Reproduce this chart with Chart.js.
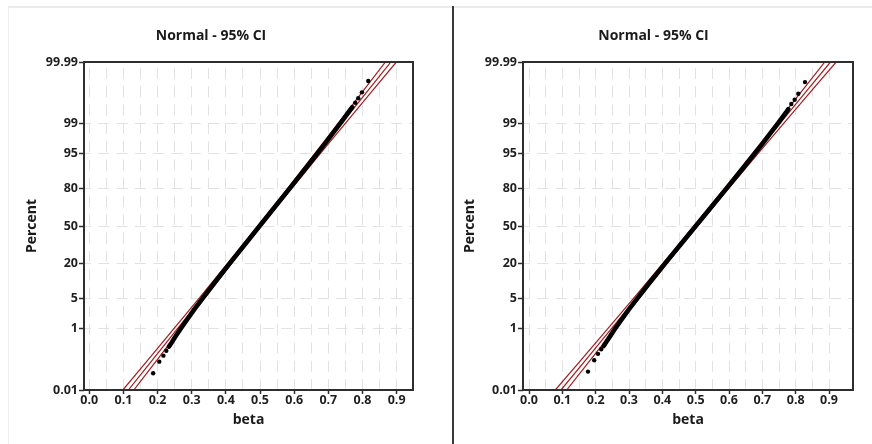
<!DOCTYPE html>
<html>
<head>
<meta charset="utf-8">
<script src="https://cdn.jsdelivr.net/npm/chart.js@4.4.1/dist/chart.umd.min.js"></script>
<style>
    html, body { margin: 0; padding: 0; background: #fff; }
    body { width: 872px; height: 444px; position: relative; overflow: hidden; }
    #marco { position: absolute; left: 8px; top: 6px; width: 864px; height: 438px; border-top: 2px solid #ebebeb; border-left: 1px solid #f0f0f0; }
    #separador { position: absolute; left: 452px; top: 6px; width: 2px; height: 438px; background: #3a3a3a; }
    canvas { position: absolute; top: 8px; }
    #graficaIzq { left: 9px; }
    #graficaDer { left: 454px; }
</style>
</head>
<body>
<div id="marco"></div>
<div id="separador"></div>
<canvas id="graficaIzq" width="436" height="436"></canvas>
<canvas id="graficaDer" width="418" height="436"></canvas>

<script>
// --- Datos ---
// Eje Y (escala de probabilidad normal)
const marcasY = [0.01, 1, 5, 20, 50, 80, 95, 99, 99.99];
const etiquetasY = ['0.01', '1', '5', '20', '50', '80', '95', '99', '99.99'];
// Eje X: rejilla cada 0.05, etiqueta cada 0.1
const marcasX = [0, 0.05, 0.1, 0.15, 0.2, 0.25, 0.3, 0.35, 0.4, 0.45, 0.5, 0.55, 0.6, 0.65, 0.7, 0.75, 0.8, 0.85, 0.9];
const etiquetasX = ['0.0', '', '0.1', '', '0.2', '', '0.3', '', '0.4', '', '0.5', '', '0.6', '', '0.7', '', '0.8', '', '0.9'];

// Niveles (%) donde se leen la recta ajustada y el IC 95%
const nivelesPct = [0.01, 0.1, 1, 5, 20, 50, 80, 95, 99, 99.9, 99.99];

// Panel izquierdo
const ajusteIzq = [0.1143, 0.1793, 0.2583, 0.3287, 0.4117, 0.4988, 0.5859, 0.6689, 0.7393, 0.8183, 0.8833];
const infIzq    = [0.0983, 0.1658, 0.2478, 0.3207, 0.4057, 0.4938, 0.5799, 0.6609, 0.7288, 0.8048, 0.8673];
const supIzq    = [0.1303, 0.1928, 0.2688, 0.3367, 0.4177, 0.5038, 0.5919, 0.6769, 0.7498, 0.8318, 0.8993];
const colaPctIzq  = [0.042, 0.105, 0.164, 0.234, 99.741, 99.811, 99.878, 99.9496];
const colaBetaIzq = [0.187, 0.205, 0.217, 0.2255, 0.779, 0.7877, 0.7985, 0.817];
const cuerpoPctIzq  = [0.31, 0.4, 0.5, 0.7, 1, 1.5, 2, 3, 5, 10, 20, 35, 50, 65, 80, 90, 95, 97, 98, 99, 99.3, 99.5, 99.65];
const cuerpoBetaIzq = [0.233, 0.2404, 0.2467, 0.2567, 0.2681, 0.2819, 0.2924, 0.3085, 0.3312, 0.3673, 0.4118, 0.459, 0.4988, 0.5386, 0.5858, 0.6308, 0.6677, 0.6913, 0.7084, 0.735, 0.7476, 0.7587, 0.7702];

// Panel derecho
const ajusteDer = [0.0959, 0.1643, 0.2474, 0.3214, 0.4087, 0.5002, 0.5917, 0.6790, 0.7530, 0.8361, 0.9045];
const infDer    = [0.0789, 0.1501, 0.2364, 0.3129, 0.4024, 0.4949, 0.5854, 0.6705, 0.7420, 0.8219, 0.8875];
const supDer    = [0.1129, 0.1785, 0.2584, 0.3299, 0.4150, 0.5055, 0.5980, 0.6875, 0.7640, 0.8503, 0.9215];
const colaPctDer  = [0.048, 0.117, 0.187, 0.259, 99.716, 99.791, 99.865, 99.945];
const colaBetaDer = [0.177, 0.1956, 0.207, 0.2166, 0.787, 0.797, 0.808, 0.828];
const cuerpoPctDer  = [0.326, 0.45, 0.7, 1, 1.5, 2, 3, 5, 10, 20, 35, 50, 65, 80, 90, 95, 97, 98, 99, 99.3, 99.5, 99.6];
const cuerpoBetaDer = [0.224, 0.2333, 0.2469, 0.2586, 0.273, 0.2839, 0.3007, 0.3244, 0.3621, 0.409, 0.4584, 0.5002, 0.542, 0.5914, 0.6387, 0.6772, 0.7017, 0.7193, 0.7468, 0.7595, 0.7712, 0.778];

const ROJO = '#a01c20';
const FUENTE = '"Open Sans", "Noto Sans", sans-serif';

// Inversa de la normal (Acklam) para pasar % a la escala de probabilidad
function probit(p) {
    const a = [-39.69683028665376, 220.9460984245205, -275.9285104469687, 138.3577518672690, -30.66479806614716, 2.506628277459239];
    const b = [-54.47609879822406, 161.5858368580409, -155.6989798598866, 66.80131188771972, -13.28068155288572];
    const c = [-0.007784894002430293, -0.3223964580411365, -2.400758277161838, -2.549671750640773, 4.374664141464968, 2.938163982698783];
    const d = [0.007784695709041462, 0.3224671290700398, 2.445134137142996, 3.754408661907416];
    const pl = 0.02425;
    if (p < pl) {
        const q = Math.sqrt(-2 * Math.log(p));
        return (((((c[0] * q + c[1]) * q + c[2]) * q + c[3]) * q + c[4]) * q + c[5]) / ((((d[0] * q + d[1]) * q + d[2]) * q + d[3]) * q + 1);
    }
    if (p > 1 - pl) {
        const q = Math.sqrt(-2 * Math.log(1 - p));
        return -(((((c[0] * q + c[1]) * q + c[2]) * q + c[3]) * q + c[4]) * q + c[5]) / ((((d[0] * q + d[1]) * q + d[2]) * q + d[3]) * q + 1);
    }
    const q = p - 0.5, r = q * q;
    return (((((a[0] * r + a[1]) * r + a[2]) * r + a[3]) * r + a[4]) * r + a[5]) * q / (((((b[0] * r + b[1]) * r + b[2]) * r + b[3]) * r + b[4]) * r + 1);
}

function puntos(pcts, betas) {
    return pcts.map((p, i) => ({ x: betas[i], y: probit(p / 100) }));
}

// Marco oscuro alrededor del área de trazado
const marcoArea = {
    id: 'marcoArea',
    afterDatasetsDraw(chart) {
        const { ctx, chartArea: a } = chart;
        ctx.save();
        ctx.strokeStyle = '#2e2e2e';
        ctx.lineWidth = 2;
        ctx.strokeRect(a.left, a.top, a.right - a.left, a.bottom - a.top);
        ctx.restore();
    }
};

function crearGrafica(idCanvas, p) {
    const recta = (datos) => ({
        data: puntos(nivelesPct, datos), showLine: true, borderColor: ROJO,
        borderWidth: 1.2, pointRadius: 0, order: 2
    });
    return new Chart(document.getElementById(idCanvas), {
        type: 'scatter',
        data: {
            datasets: [
                recta(p.inferior), recta(p.ajuste), recta(p.superior),
                {
                    data: puntos(p.cuerpoPct, p.cuerpoBeta), showLine: true, borderColor: '#000',
                    borderWidth: 4.6, borderCapStyle: 'round', pointRadius: 0, order: 1
                },
                {
                    data: puntos(p.colaPct, p.colaBeta), backgroundColor: '#000', borderWidth: 0,
                    pointRadius: 2.2, order: 0
                }
            ]
        },
        options: {
            responsive: false, animation: false,
            layout: { padding: { right: p.rellenoDer } },
            plugins: {
                legend: { display: false }, tooltip: { enabled: false },
                title: {
                    display: true, text: 'Normal - 95% CI', color: '#1a1a1a',
                    font: { family: FUENTE, size: 14, weight: 'bold', lineHeight: 1.2 },
                    padding: { top: 20, bottom: 17.2 }
                }
            },
            scales: {
                x: {
                    type: 'linear', min: p.xMin, max: p.xMax,
                    afterFit: (eje) => { eje.height = 54; },
                    afterBuildTicks: (eje) => { eje.ticks = marcasX.map(v => ({ value: v })); },
                    ticks: {
                        autoSkip: false, maxRotation: 0, padding: 0, color: '#1e1e1e',
                        font: { family: FUENTE, size: 12.5, weight: 'bold', lineHeight: 1 },
                        callback: (v, i) => etiquetasX[i]
                    },
                    grid: {
                        color: '#e2e2e2', lineWidth: 1, tickLength: 4, tickWidth: 1.5,
                        tickColor: (c) => (c.index % 2 === 0 ? '#2e2e2e' : 'rgba(0,0,0,0)')
                    },
                    border: { display: false, dash: [11, 7.3], dashOffset: 12.3 },
                    title: {
                        display: true, text: 'beta', color: '#1a1a1a',
                        font: { family: FUENTE, size: 14, weight: 'bold', lineHeight: 1.2 },
                        padding: { top: 0, bottom: 15.6 }
                    }
                },
                y: {
                    type: 'linear', min: probit(0.0001), max: probit(0.9999),
                    afterFit: (eje) => { eje.width = p.anchoEjeY; },
                    afterBuildTicks: (eje) => { eje.ticks = marcasY.map(v => ({ value: probit(v / 100) })); },
                    ticks: {
                        autoSkip: false, padding: 1, color: '#1e1e1e',
                        font: { family: FUENTE, size: 12.5, weight: 'bold', lineHeight: 1 },
                        callback: (v, i) => etiquetasY[i]
                    },
                    grid: { color: '#e2e2e2', lineWidth: 1, tickLength: 5, tickWidth: 1.5, tickColor: '#2e2e2e' },
                    border: { display: false, dash: [11, 7.3], dashOffset: 4 },
                    title: {
                        display: true, text: 'Percent', color: '#1a1a1a',
                        font: { family: FUENTE, size: 14, weight: 'bold', lineHeight: 1.2 },
                        padding: { top: p.padTituloY, bottom: 0 }
                    }
                }
            }
        },
        plugins: [marcoArea]
    });
}

crearGrafica('graficaIzq', {
    xMin: -0.0155, xMax: 0.948, anchoEjeY: 75, rellenoDer: 32, padTituloY: 14.6,
    ajuste: ajusteIzq, inferior: infIzq, superior: supIzq,
    colaPct: colaPctIzq, colaBeta: colaBetaIzq, cuerpoPct: cuerpoPctIzq, cuerpoBeta: cuerpoBetaIzq
});

crearGrafica('graficaDer', {
    xMin: -0.018, xMax: 0.972, anchoEjeY: 69, rellenoDer: 19, padTituloY: 7.6,
    ajuste: ajusteDer, inferior: infDer, superior: supDer,
    colaPct: colaPctDer, colaBeta: colaBetaDer, cuerpoPct: cuerpoPctDer, cuerpoBeta: cuerpoBetaDer
});
</script>
</body>
</html>
